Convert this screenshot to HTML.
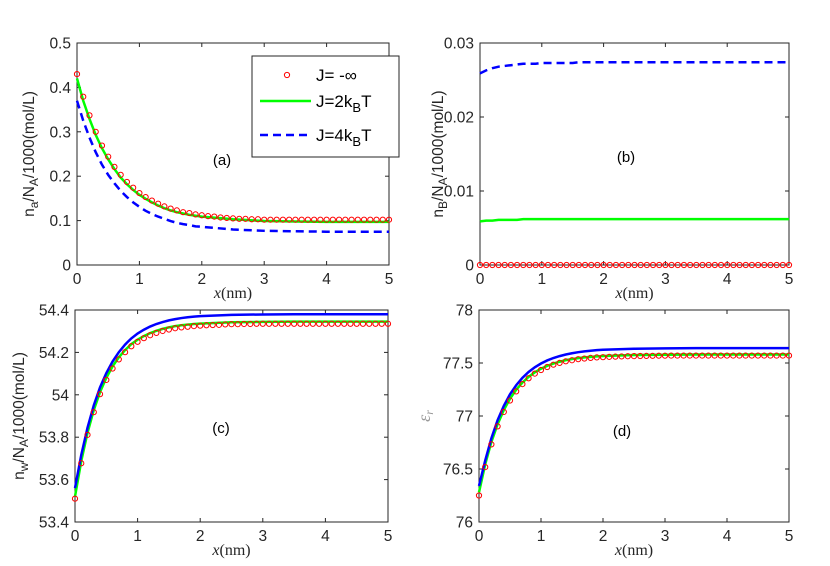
<!DOCTYPE html>
<html><head><meta charset="utf-8"><style>
html,body{margin:0;padding:0;background:#fff;width:830px;height:566px;overflow:hidden}
svg text{font-family:"Liberation Sans",Arial,sans-serif}
</style></head><body>
<svg id="fig" width="830" height="566" xmlns="http://www.w3.org/2000/svg"></svg>
<script>
// circle x grid (step 0.1)
const xsC = [0,0.1,0.2,0.3,0.4,0.5,0.6,0.7,0.8,0.9,1.0,1.1,1.2,1.3,1.4,1.5,1.6,1.7,1.8,1.9,2.0,2.1,2.2,2.3,2.4,2.5,2.6,2.7,2.8,2.9,3.0,3.1,3.2,3.3,3.4,3.5,3.6,3.7,3.8,3.9,4.0,4.1,4.2,4.3,4.4,4.5,4.6,4.7,4.8,4.9,5.0];
// line x grid
const xsL = [0,0.1,0.2,0.3,0.4,0.5,0.6,0.7,0.8,0.9,1.0,1.1,1.2,1.3,1.4,1.5,1.6,1.7,1.8,1.9,2.0,2.5,3.0,3.5,4.0,4.5,5.0];
const xTicks = [0,1,2,3,4,5];

// panel a
const aRed = [0.430,0.379,0.337,0.300,0.269,0.244,0.221,0.203,0.187,0.174,0.162,0.153,0.145,0.138,0.132,0.127,0.123,0.119,0.117,0.114,0.112,0.110,0.109,0.107,0.106,0.105,0.104,0.104,0.103,0.103,0.102,0.102,0.102,0.102,0.102,0.102,0.102,0.102,0.102,0.102,0.102,0.102,0.102,0.102,0.102,0.102,0.102,0.102,0.102,0.102,0.102];
const aGreen = [0.420,0.370,0.329,0.293,0.263,0.238,0.216,0.197,0.182,0.169,0.158,0.149,0.141,0.134,0.128,0.123,0.119,0.116,0.113,0.111,0.109,0.103,0.099,0.098,0.097,0.097,0.097];
const aBlue = [0.370,0.325,0.287,0.254,0.226,0.203,0.184,0.167,0.153,0.141,0.131,0.122,0.115,0.109,0.104,0.099,0.095,0.092,0.090,0.087,0.086,0.080,0.077,0.076,0.075,0.075,0.075];
const aTicks = [0,0.1,0.2,0.3,0.4,0.5];
const aTickLabels = ["0","0.1","0.2","0.3","0.4","0.5"];

// panel b
const bRed = [0,0,0,0,0,0,0,0,0,0,0,0,0,0,0,0,0,0,0,0,0,0,0,0,0,0,0,0,0,0,0,0,0,0,0,0,0,0,0,0,0,0,0,0,0,0,0,0,0,0,0];
const bGreen = [0.0059,0.0060,0.0060,0.0061,0.0061,0.0061,0.0061,0.0062,0.0062,0.0062,0.0062,0.0062,0.0062,0.0062,0.0062,0.0062,0.0062,0.0062,0.0062,0.0062,0.0062,0.0062,0.0062,0.0062,0.0062,0.0062,0.0062];
const bBlue = [0.0259,0.0263,0.0266,0.0268,0.0269,0.0270,0.0271,0.0272,0.0272,0.0272,0.0273,0.0273,0.0273,0.0273,0.0273,0.0273,0.0274,0.0274,0.0274,0.0274,0.0274,0.0274,0.0274,0.0274,0.0274,0.0274,0.0274];
const bTicks = [0,0.01,0.02,0.03];
const bTickLabels = ["0","0.01","0.02","0.03"];

// panel c
const cRed = [53.510,53.677,53.811,53.918,54.003,54.070,54.124,54.167,54.201,54.229,54.250,54.267,54.281,54.292,54.301,54.308,54.314,54.318,54.321,54.324,54.326,54.328,54.329,54.330,54.332,54.333,54.333,54.334,54.334,54.335,54.335,54.335,54.335,54.335,54.335,54.335,54.335,54.335,54.335,54.335,54.335,54.335,54.335,54.335,54.335,54.335,54.335,54.335,54.335,54.335,54.335];
const cGreen = [53.520,53.687,53.821,53.928,54.013,54.080,54.134,54.177,54.211,54.239,54.260,54.277,54.291,54.302,54.311,54.318,54.324,54.328,54.331,54.334,54.336,54.342,54.344,54.345,54.345,54.345,54.345];
const cBlue = [53.560,53.716,53.845,53.950,54.035,54.102,54.157,54.201,54.237,54.266,54.289,54.307,54.322,54.334,54.343,54.351,54.357,54.362,54.366,54.369,54.371,54.377,54.379,54.380,54.380,54.380,54.380];
const cTicks = [53.4,53.6,53.8,54,54.2,54.4];
const cTickLabels = ["53.4","53.6","53.8","54","54.2","54.4"];

// panel d
const dRed = [76.25,76.518,76.732,76.902,77.038,77.146,77.232,77.301,77.356,77.400,77.434,77.462,77.484,77.501,77.516,77.526,77.536,77.542,77.548,77.553,77.555,77.558,77.560,77.562,77.564,77.565,77.566,77.567,77.568,77.569,77.569,77.570,77.570,77.570,77.570,77.570,77.570,77.570,77.570,77.570,77.570,77.570,77.570,77.570,77.570,77.570,77.570,77.570,77.570,77.570,77.570];
const dGreen = [76.28,76.544,76.755,76.922,77.056,77.163,77.247,77.315,77.369,77.412,77.446,77.473,77.495,77.512,77.527,77.537,77.546,77.553,77.558,77.563,77.566,77.575,77.578,77.580,77.580,77.580,77.580];
const dBlue = [76.34,76.580,76.790,76.960,77.095,77.205,77.290,77.360,77.415,77.460,77.495,77.524,77.547,77.565,77.580,77.592,77.602,77.610,77.616,77.621,77.625,77.634,77.638,77.640,77.640,77.640,77.640];
const dTicks = [76,76.5,77,77.5,78];
const dTickLabels = ["76","76.5","77","77.5","78"];

const NS = "http://www.w3.org/2000/svg";
const fig = document.getElementById('fig');
function mk(tag, attrs, parent){ const e=document.createElementNS(NS,tag); for(const k in attrs) e.setAttribute(k,attrs[k]); (parent||fig).appendChild(e); return e; }

function panel(id, box, ymin, ymax, yt, ytl, red, green, blue, tag, tagPos, ylabelFn){
  const g = mk('g',{});
  
  
  const [L,T,R,B] = box;
  const sx = v => L + (v/5)*(R-L);
  const sy = v => B - (v-ymin)/(ymax-ymin)*(B-T);
  const fr = mk('rect',{x:L,y:T,width:R-L,height:B-T,fill:'#fff',stroke:'#262626','stroke-width':1},g);
  
  
  xTicks.forEach(t=>{
    const x=sx(t);
    mk('line',{x1:x,y1:B,x2:x,y2:B-4,stroke:'#262626'},g);
    mk('line',{x1:x,y1:T,x2:x,y2:T+4,stroke:'#262626'},g);
    const tx=mk('text',{x:x,y:B+19,'font-size':15.5,'text-anchor':'middle',fill:'#262626'},g);
    tx.textContent=String(t);
    
    
  });
  yt.forEach((t,i)=>{
    const y=sy(t);
    mk('line',{x1:L,y1:y,x2:L+4,y2:y,stroke:'#262626'},g);
    mk('line',{x1:R,y1:y,x2:R-4,y2:y,stroke:'#262626'},g);
    const tx=mk('text',{x:L-6,y:y+5.5,'font-size':15.5,'text-anchor':'end',fill:'#262626'},g);
    tx.textContent=ytl[i];
    
    
  });
  const xl=mk('text',{x:(L+R)/2,y:B+33,'font-size':16,'text-anchor':'middle',fill:'#262626',style:'font-family:"Liberation Serif",serif'},g);
  xl.innerHTML='<tspan font-style="italic">x</tspan>(nm)';
  
  
  ylabelFn(g,(T+B)/2);
  const gp = xsL.map((x,i)=>sx(x)+','+sy(green[i])).join(' ');
  const gl = mk('polyline',{points:gp,fill:'none',stroke:'#00ff00','stroke-width':2.5},g);
  
  
  const bp = xsL.map((x,i)=>sx(x)+','+sy(blue[i])).join(' ');
  const bl = mk('polyline',{points:bp,fill:'none',stroke:'#0000ff','stroke-width':2.5,'stroke-dasharray':(id==='a'||id==='b')?'8,5':'none'},g);
  
  
  xsC.forEach((x,i)=>{
    const c=mk('circle',{cx:sx(x),cy:sy(red[i]),r:2.6,fill:'none',stroke:'#ff0000','stroke-width':1},g);
    
    
  });
  const tg=mk('text',{x:tagPos[0],y:tagPos[1],'font-size':15,'text-anchor':'middle',fill:'#000'},g);
  tg.textContent='('+tag+')';
  
  
  return g;
}
function ylab(html,x){
  return (g,cy)=>{
    const t=mk('text',{x:0,y:0,'font-size':15.5,'text-anchor':'middle',fill:'#262626',transform:`translate(${x},${cy}) rotate(-90)`},g);
    t.innerHTML=html;
    
    
  };
}
const sub = s=>`<tspan dy="4" font-size="12">${s}</tspan><tspan dy="-4">`;
panel('a',[77,43,389,265],0,0.5,aTicks,aTickLabels,aRed,aGreen,aBlue,'a',[222,165],
  ylab(`n${sub('a')}/N</tspan>${sub('A')}/1000(mol/L)</tspan>`,34));
panel('b',[480,43,789,265],0,0.03,bTicks,bTickLabels,bRed,bGreen,bBlue,'b',[626,162],
  ylab(`n${sub('B')}/N</tspan>${sub('A')}/1000(mol/L)</tspan>`,443));
panel('c',[75,310,388,522],53.4,54.4,cTicks,cTickLabels,cRed,cGreen,cBlue,'c',[221,433],
  ylab(`n${sub('w')}/N</tspan>${sub('A')}/1000(mol/L)</tspan>`,24));
panel('d',[479,310,789,522],76,78,dTicks,dTickLabels,dRed,dGreen,dBlue,'d',[622,436],
  (g,cy)=>{const t=mk('text',{x:0,y:0,'font-size':18,'text-anchor':'middle',fill:'#999',style:'font-family:"Liberation Serif",serif',transform:`translate(${430},${cy}) rotate(-90)`},g);
   t.innerHTML='<tspan font-style="italic">ε</tspan><tspan font-style="italic" dy="3" font-size="12">r</tspan>';
   
   });
// legend
const lg = mk('g',{});


mk('rect',{x:252,y:56,width:147,height:101,fill:'#fff',stroke:'#262626','stroke-width':1},lg);
const lc=mk('circle',{cx:287,cy:75,r:2.6,fill:'none',stroke:'#ff0000'},lg);


mk('line',{x1:260,y1:101,x2:311,y2:101,stroke:'#00ff00','stroke-width':2.5},lg);
mk('line',{x1:260,y1:135,x2:311,y2:135,stroke:'#0000ff','stroke-width':2.5,'stroke-dasharray':'8,5'},lg);
const t1=mk('text',{x:316,y:81,'font-size':17,fill:'#000'},lg); t1.textContent='J= -∞';


const t2=mk('text',{x:316,y:107,'font-size':17,fill:'#000'},lg); t2.innerHTML='J=2k<tspan dy="5" font-size="13">B</tspan><tspan dy="-5">T</tspan>';


const t3=mk('text',{x:316,y:141,'font-size':17,fill:'#000'},lg); t3.innerHTML='J=4k<tspan dy="5" font-size="13">B</tspan><tspan dy="-5">T</tspan>';


</script>
</body></html>
